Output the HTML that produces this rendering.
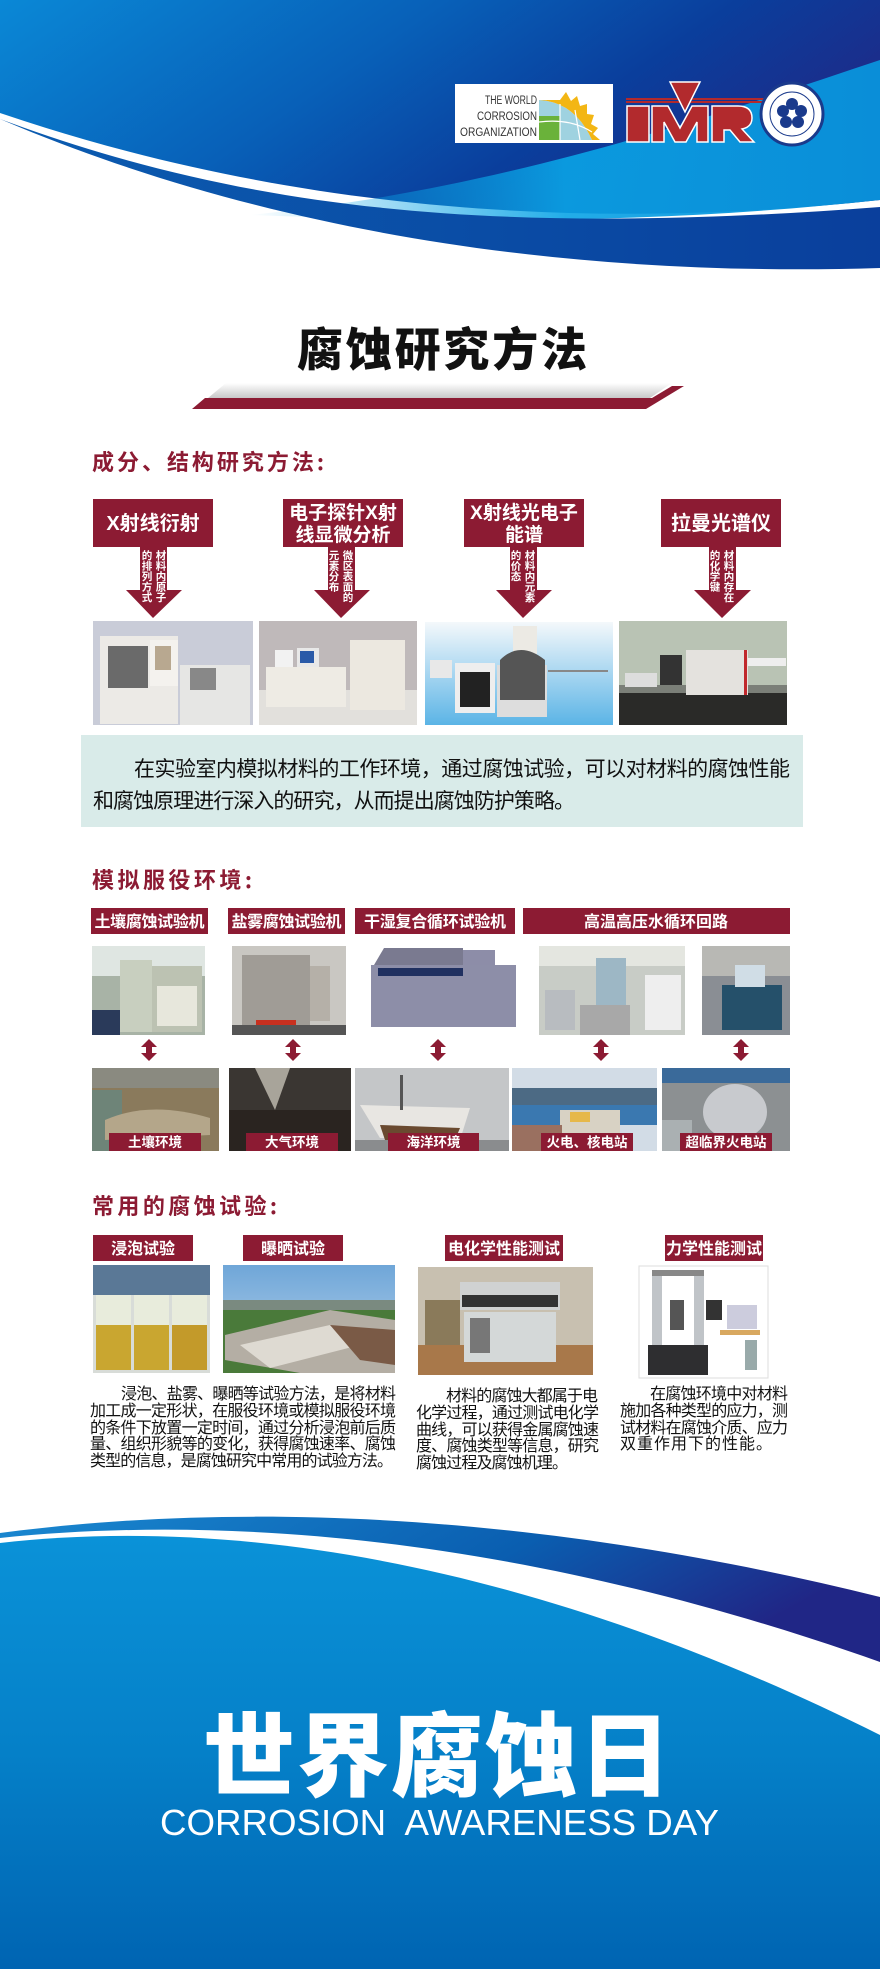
<!DOCTYPE html>
<html><head><meta charset="utf-8"><style>
html,body{margin:0;padding:0;background:#fff;}
svg{display:block;}
text{font-family:"Liberation Sans","Noto Sans CJK SC",sans-serif;}
.cn{font-family:"Noto Sans CJK SC","WenQuanYi Zen Hei",sans-serif;}
</style></head><body>
<svg width="880" height="1969" viewBox="0 0 880 1969" xmlns="http://www.w3.org/2000/svg">
<defs>
<linearGradient id="hg" x1="0" y1="0" x2="1" y2="0.35">
<stop offset="0" stop-color="#0a88d6"/><stop offset="0.45" stop-color="#0860b8"/><stop offset="0.75" stop-color="#0a3e9c"/><stop offset="1" stop-color="#1c2c8a"/></linearGradient>
<linearGradient id="cy" x1="0" y1="0" x2="1" y2="0">
<stop offset="0" stop-color="#0aa4e6" stop-opacity="0"/><stop offset="0.5" stop-color="#0aa4e6" stop-opacity="0.9"/><stop offset="1" stop-color="#0a8ed8"/></linearGradient>
<linearGradient id="lb" x1="0" y1="0" x2="1" y2="0">
<stop offset="0" stop-color="#0b5cb0"/><stop offset="1" stop-color="#0a3f9c"/></linearGradient>
<linearGradient id="fb" x1="0" y1="0" x2="0" y2="1">
<stop offset="0" stop-color="#0a92d8"/><stop offset="0.5" stop-color="#0580c8"/><stop offset="1" stop-color="#0064b2"/></linearGradient>
<linearGradient id="fd" x1="0" y1="0" x2="1" y2="0.3">
<stop offset="0" stop-color="#1a88d0"/><stop offset="0.6" stop-color="#0a5eb0"/><stop offset="1" stop-color="#202686"/></linearGradient>
<linearGradient id="gr" x1="0" y1="0" x2="0" y2="1">
<stop offset="0" stop-color="#fff"/><stop offset="1" stop-color="#c8c8c8"/></linearGradient>
<linearGradient id="sky" x1="0" y1="0" x2="0" y2="1"><stop offset="0" stop-color="#6fa6d8"/><stop offset="1" stop-color="#bcd6ec"/></linearGradient>
<linearGradient id="ltb" x1="0" y1="0" x2="0" y2="1"><stop offset="0" stop-color="#f4f8fb"/><stop offset="1" stop-color="#5bb4e6"/></linearGradient>
</defs>

<!-- header -->
<path d="M0,0 H880 V200 C600,230 300,215 0,113 Z" fill="url(#hg)"/>
<path d="M250,215 C500,190 700,120 880,60 V200 C650,225 450,222 250,215 Z" fill="url(#cy)"/>
<path d="M0,119 C250,212 500,236 880,207 V268 C560,278 260,230 0,119 Z" fill="url(#lb)"/>

<!-- logos -->
<rect x="455" y="84" width="158" height="59" fill="#fff"/>
<text x="485" y="104" font-size="11.5" fill="#333" textLength="52" lengthAdjust="spacingAndGlyphs">THE WORLD</text>
<text x="477" y="120" font-size="11.5" fill="#333" textLength="60" lengthAdjust="spacingAndGlyphs">CORROSION</text>
<text x="460" y="136" font-size="11.5" fill="#333" textLength="77" lengthAdjust="spacingAndGlyphs">ORGANIZATION</text>
<path d="M539,100 Q575,102 592,140 H539 Z" fill="#9fd2e0"/>
<path d="M539,116 H560 V140 H539 Z" fill="#6ab23a"/>
<path d="M560,100 L566,92 L571,101 L577,96 L580,106 L587,104 L587,114 L594,115 L591,124 L598,128 L593,134 L600,140 H592 Q575,102 539,100 Z" fill="#f3b614"/>
<path d="M560,104 V140 M575,110 L580,140 M539,122 Q570,118 592,132" stroke="#fff" stroke-width="1.2" fill="none"/>
<path d="M626,99 H766 M626,102 H766" stroke="#b22a2d" stroke-width="2"/>
<path d="M670,82 H700 L685,112 Z" fill="#b22a2d" stroke="#fff" stroke-width="1.5"/>
<rect x="627" y="106" width="22" height="36" fill="#b22a2d" stroke="#fff" stroke-width="1.5"/>
<path d="M652,142 V106 H668 L680,128 L692,106 H708 V142 H697 V122 L686,142 H675 L664,122 V142 Z" fill="#b22a2d" stroke="#fff" stroke-width="1.5"/>
<path d="M712,142 V106 H738 Q752,106 752,118 Q752,127 742,129 L754,142 H740 L730,130 H724 V142 Z" fill="#b22a2d" stroke="#fff" stroke-width="1.5"/>
<circle cx="792" cy="114" r="31" fill="#fff" stroke="#1a3a8c" stroke-width="3"/>
<circle cx="792" cy="114" r="22" fill="none" stroke="#1a3a8c" stroke-width="1"/>
<g fill="#1a3a8c"><circle cx="792" cy="104" r="6"/><circle cx="801" cy="111" r="6"/><circle cx="798" cy="122" r="6"/><circle cx="786" cy="122" r="6"/><circle cx="783" cy="111" r="6"/></g>
<circle cx="792" cy="114" r="3" fill="#fff"/>

<!-- title -->
<text x="442" y="366" class="cn" font-size="46" font-weight="900" fill="#111" text-anchor="middle" textLength="290">腐蚀研究方法</text>
<polygon points="208,398 650,398 672,383 226,383" fill="url(#gr)"/>
<polygon points="192,409 646,409 684,386 672,386 652,398 205,398" fill="#8c1b33"/>

<!-- section 1 -->
<text x="92" y="470" class="cn" font-size="22" font-weight="700" fill="#8c1b33" textLength="232">成分、结构研究方法:</text>
<g fill="#8c1b33">
<rect x="93" y="499" width="120" height="48"/><rect x="283" y="499" width="120" height="48"/><rect x="464" y="499" width="120" height="48"/><rect x="661" y="499" width="120" height="48"/>
<polygon points="140,547 167,547 167,590 182,590 153,618 126,590 140,590"/>
<polygon points="328,547 355,547 355,590 370,590 341,618 314,590 328,590"/>
<polygon points="510,547 537,547 537,590 552,590 523,618 496,590 510,590"/>
<polygon points="709,547 736,547 736,590 751,590 722,618 694,590 709,590"/>
</g>
<g class="cn" fill="#fff" font-weight="700" text-anchor="middle">
<text x="153" y="530" font-size="20">X射线衍射</text>
<text x="343" y="519" font-size="19">电子探针X射</text><text x="343" y="541" font-size="19">线显微分析</text>
<text x="524" y="519" font-size="19">X射线光电子</text><text x="524" y="541" font-size="19">能谱</text>
<text x="721" y="530" font-size="20">拉曼光谱仪</text>
</g>
<g class="cn" fill="#fff" font-size="10.5" font-weight="700" text-anchor="middle">
<text><tspan x="161" y="559">材</tspan><tspan x="161" dy="10.5">料</tspan><tspan x="161" dy="10.5">内</tspan><tspan x="161" dy="10.5">原</tspan><tspan x="161" dy="10.5">子</tspan></text>
<text><tspan x="147" y="559">的</tspan><tspan x="147" dy="10.5">排</tspan><tspan x="147" dy="10.5">列</tspan><tspan x="147" dy="10.5">方</tspan><tspan x="147" dy="10.5">式</tspan></text>
<text><tspan x="348" y="559">微</tspan><tspan x="348" dy="10.5">区</tspan><tspan x="348" dy="10.5">表</tspan><tspan x="348" dy="10.5">面</tspan><tspan x="348" dy="10.5">的</tspan></text>
<text><tspan x="334" y="559">元</tspan><tspan x="334" dy="10.5">素</tspan><tspan x="334" dy="10.5">分</tspan><tspan x="334" dy="10.5">布</tspan></text>
<text><tspan x="530" y="559">材</tspan><tspan x="530" dy="10.5">料</tspan><tspan x="530" dy="10.5">内</tspan><tspan x="530" dy="10.5">元</tspan><tspan x="530" dy="10.5">素</tspan></text>
<text><tspan x="516" y="559">的</tspan><tspan x="516" dy="10.5">价</tspan><tspan x="516" dy="10.5">态</tspan></text>
<text><tspan x="729" y="559">材</tspan><tspan x="729" dy="10.5">料</tspan><tspan x="729" dy="10.5">内</tspan><tspan x="729" dy="10.5">存</tspan><tspan x="729" dy="10.5">在</tspan></text>
<text><tspan x="715" y="559">的</tspan><tspan x="715" dy="10.5">化</tspan><tspan x="715" dy="10.5">学</tspan><tspan x="715" dy="10.5">键</tspan></text>
</g>
<!-- photos s1 -->
<rect x="93" y="621" width="160" height="104" fill="#c9ccd8"/>
<rect x="100" y="636" width="78" height="88" fill="#eceae6"/><rect x="108" y="646" width="40" height="42" fill="#6a6a6a"/><rect x="150" y="640" width="28" height="46" fill="#f4f2ee"/><rect x="155" y="646" width="16" height="24" fill="#b8a890"/>
<rect x="180" y="665" width="70" height="60" fill="#e6e6e4"/><rect x="190" y="668" width="26" height="22" fill="#888"/>
<rect x="259" y="621" width="158" height="104" fill="#bfb9ba"/><rect x="259" y="690" width="158" height="35" fill="#e2e0dc"/>
<rect x="266" y="667" width="80" height="40" fill="#eeebe4"/><rect x="275" y="650" width="18" height="17" fill="#f2f2f2"/><rect x="297" y="648" width="22" height="19" fill="#e8e8e8"/><rect x="300" y="651" width="14" height="12" fill="#2a5aa8"/>
<rect x="350" y="640" width="55" height="70" fill="#ece8e0"/>
<rect x="425" y="622" width="188" height="103" fill="url(#ltb)"/>
<rect x="455" y="663" width="40" height="50" fill="#eee"/><rect x="460" y="672" width="30" height="35" fill="#222"/><rect x="497" y="665" width="50" height="52" fill="#ddd"/><rect x="513" y="626" width="24" height="28" fill="#eceae4"/><path d="M500,660 Q520,640 545,660 L545,700 L500,700 Z" fill="#555"/><rect x="430" y="660" width="22" height="18" fill="#e8e8e8"/><rect x="548" y="670" width="60" height="2" fill="#888"/>
<rect x="619" y="621" width="168" height="104" fill="#b9c3b4"/><rect x="619" y="691" width="168" height="34" fill="#2a2a28"/><rect x="619" y="685" width="168" height="8" fill="#7b7f78"/>
<rect x="686" y="650" width="62" height="45" fill="#e4e2de"/><rect x="744" y="650" width="3" height="45" fill="#c0282c"/><rect x="660" y="655" width="22" height="30" fill="#333"/><rect x="625" y="673" width="32" height="14" fill="#ddd"/><rect x="748" y="658" width="38" height="8" fill="#eee"/>

<!-- teal box -->
<rect x="81" y="735" width="722" height="92" fill="#d9ebe9"/>
<text x="134" y="776" class="cn" font-size="21" fill="#111" textLength="656">在实验室内模拟材料的工作环境，通过腐蚀试验，可以对材料的腐蚀性能</text>
<text x="93" y="808" class="cn" font-size="21" fill="#111" textLength="482">和腐蚀原理进行深入的研究，从而提出腐蚀防护策略。</text>

<!-- section 2 -->
<text x="92" y="888" class="cn" font-size="22" font-weight="700" fill="#8c1b33" textLength="160">模拟服役环境:</text>
<g fill="#8c1b33"><rect x="91" y="908" width="117" height="26"/><rect x="228" y="908" width="117" height="26"/><rect x="355" y="908" width="160" height="26"/><rect x="523" y="908" width="267" height="26"/></g>
<g class="cn" fill="#fff" font-size="16" font-weight="700" text-anchor="middle">
<text x="149.5" y="927" textLength="110">土壤腐蚀试验机</text><text x="286.5" y="927" textLength="110">盐雾腐蚀试验机</text><text x="435" y="927" textLength="142">干湿复合循环试验机</text><text x="656" y="927">高温高压水循环回路</text>
</g>
<rect x="92" y="946" width="113" height="89" fill="#a8b3a6"/><rect x="92" y="946" width="113" height="30" fill="#dfe6e2"/><rect x="120" y="960" width="32" height="72" fill="#c8cfbf"/><rect x="152" y="966" width="50" height="66" fill="#bcc2b2"/><rect x="157" y="986" width="40" height="40" fill="#e7e7dc"/><rect x="92" y="1010" width="28" height="25" fill="#2a3a5a"/>
<rect x="232" y="946" width="114" height="89" fill="#c9c7c2"/><rect x="242" y="955" width="68" height="70" fill="#a09c96"/><rect x="310" y="966" width="20" height="55" fill="#b5b0a8"/><rect x="256" y="1020" width="40" height="8" fill="#c8301f"/><rect x="232" y="1025" width="114" height="10" fill="#555"/>
<rect x="364" y="946" width="157" height="89" fill="#fff"/><path d="M374,965 L384,948 L463,948 L463,965 Z" fill="#7a7a90"/><rect x="463" y="950" width="32" height="20" fill="#8d8da8"/><rect x="371" y="965" width="145" height="62" fill="#8d8ea8"/><rect x="378" y="968" width="85" height="8" fill="#203060"/>
<rect x="539" y="946" width="146" height="89" fill="#c8ccc6"/><rect x="539" y="946" width="146" height="20" fill="#e4e6e0"/><rect x="596" y="958" width="30" height="50" fill="#9db7c5"/><rect x="545" y="990" width="30" height="40" fill="#b8bcc0"/><rect x="645" y="975" width="36" height="55" fill="#eee"/><rect x="580" y="1005" width="50" height="30" fill="#a8a8a8"/>
<rect x="702" y="946" width="88" height="89" fill="#8a8e94"/><rect x="702" y="946" width="88" height="30" fill="#b8b8b4"/><rect x="722" y="985" width="60" height="45" fill="#25506a"/><rect x="735" y="965" width="30" height="22" fill="#d0dde6"/>
<g fill="#8c1b33">
<polygon points="149,1039 141,1047 146,1047 146,1053 141,1053 149,1061 157,1053 152,1053 152,1047 157,1047"/>
<polygon points="293,1039 285,1047 290,1047 290,1053 285,1053 293,1061 301,1053 296,1053 296,1047 301,1047"/>
<polygon points="438,1039 430,1047 435,1047 435,1053 430,1053 438,1061 446,1053 441,1053 441,1047 446,1047"/>
<polygon points="601,1039 593,1047 598,1047 598,1053 593,1053 601,1061 609,1053 604,1053 604,1047 609,1047"/>
<polygon points="741,1039 733,1047 738,1047 738,1053 733,1053 741,1061 749,1053 744,1053 744,1047 749,1047"/>
</g>
<rect x="92" y="1068" width="127" height="83" fill="#8a7a5c"/><rect x="92" y="1068" width="127" height="20" fill="#8a8a80"/><rect x="92" y="1090" width="30" height="61" fill="#6e8478"/><path d="M105,1120 Q150,1100 210,1118 L210,1135 L105,1140 Z" fill="#b4a68a"/>
<rect x="229" y="1068" width="122" height="83" fill="#3a3632"/><path d="M255,1068 L290,1068 L275,1110 Z" fill="#a8a49a"/><rect x="229" y="1110" width="122" height="41" fill="#2a2420"/>
<rect x="355" y="1068" width="154" height="83" fill="#c4c6c8"/><path d="M360,1105 L470,1108 L460,1140 L380,1138 Z" fill="#e8e6e2"/><path d="M380,1125 L460,1128 L455,1140 L385,1140 Z" fill="#6a4a30"/><rect x="355" y="1140" width="154" height="11" fill="#8a8c8e"/><rect x="400" y="1075" width="3" height="35" fill="#555"/>
<rect x="512" y="1068" width="145" height="83" fill="#d2dce6"/><rect x="512" y="1088" width="145" height="20" fill="#4c6a84"/><rect x="512" y="1105" width="145" height="20" fill="#3a78b0"/><rect x="560" y="1110" width="60" height="41" fill="#d8d2c4"/><rect x="570" y="1112" width="20" height="10" fill="#e6b84a"/><rect x="512" y="1125" width="50" height="26" fill="#9a7060"/>
<rect x="662" y="1068" width="128" height="83" fill="#8c9092"/><rect x="662" y="1068" width="128" height="15" fill="#3a6a9a"/><ellipse cx="735" cy="1112" rx="32" ry="28" fill="#c8cace"/><rect x="662" y="1120" width="30" height="31" fill="#aab0b2"/>
<g fill="#8c1b33"><rect x="109" y="1133" width="92" height="18"/><rect x="246" y="1133" width="92" height="18"/><rect x="388" y="1133" width="91" height="18"/><rect x="541" y="1133" width="92" height="18"/><rect x="680" y="1133" width="92" height="18"/></g>
<g class="cn" fill="#fff" font-size="13.5" font-weight="700" text-anchor="middle">
<text x="155" y="1147">土壤环境</text><text x="292" y="1147">大气环境</text><text x="433.5" y="1147">海洋环境</text><text x="587" y="1147">火电、核电站</text><text x="726" y="1147">超临界火电站</text>
</g>

<!-- section 3 -->
<text x="92" y="1214" class="cn" font-size="22" font-weight="700" fill="#8c1b33" textLength="185">常用的腐蚀试验:</text>
<g fill="#8c1b33"><rect x="93" y="1235" width="100" height="26"/><rect x="243" y="1235" width="100" height="26"/><rect x="445" y="1235" width="118" height="26"/><rect x="665" y="1235" width="98" height="26"/></g>
<g class="cn" fill="#fff" font-size="16" font-weight="700" text-anchor="middle">
<text x="143" y="1254">浸泡试验</text><text x="293" y="1254">曝晒试验</text><text x="504" y="1254">电化学性能测试</text><text x="714" y="1254">力学性能测试</text>
</g>
<rect x="93" y="1265" width="117" height="108" fill="#d8dcd8"/><rect x="93" y="1265" width="117" height="30" fill="#5a7896"/>
<rect x="96" y="1295" width="35" height="75" fill="#e8ecdc"/><rect x="134" y="1295" width="35" height="75" fill="#e8ecdc"/><rect x="172" y="1295" width="35" height="75" fill="#e8ecdc"/>
<rect x="96" y="1325" width="35" height="45" fill="#c9a630"/><rect x="134" y="1325" width="35" height="45" fill="#c9a630"/><rect x="172" y="1325" width="35" height="45" fill="#c39a2a"/>
<rect x="223" y="1265" width="172" height="108" fill="url(#sky)"/><rect x="223" y="1300" width="172" height="10" fill="#7a8a80"/><rect x="223" y="1310" width="172" height="63" fill="#4a7a3a"/>
<path d="M225,1335 L330,1310 L395,1320 L395,1373 L300,1373 L225,1360 Z" fill="#b4aea4"/><path d="M240,1345 L330,1325 L360,1345 L270,1368 Z" fill="#dedad2"/><path d="M330,1325 L395,1330 L395,1365 L360,1360 Z" fill="#7a5a46"/>
<rect x="418" y="1267" width="175" height="108" fill="#c8c0b0"/><rect x="418" y="1345" width="175" height="30" fill="#a8784a"/><rect x="460" y="1282" width="100" height="28" fill="#d0d2d2"/><rect x="462" y="1295" width="96" height="12" fill="#333"/><rect x="464" y="1312" width="92" height="50" fill="#d4d8d8"/><rect x="470" y="1318" width="20" height="35" fill="#777"/><rect x="425" y="1300" width="35" height="45" fill="#8a7a5a"/>
<rect x="639" y="1266" width="129" height="112" fill="#fff" stroke="#ddd"/><rect x="652" y="1270" width="10" height="85" fill="#c0c4c8"/><rect x="694" y="1270" width="10" height="85" fill="#c0c4c8"/><rect x="652" y="1270" width="52" height="6" fill="#888"/><rect x="648" y="1345" width="60" height="30" fill="#2e2e30"/><rect x="670" y="1300" width="14" height="30" fill="#555"/><rect x="706" y="1300" width="16" height="20" fill="#333"/><rect x="727" y="1305" width="30" height="24" fill="#ccd"/><rect x="720" y="1330" width="40" height="5" fill="#d8a860"/><rect x="745" y="1340" width="12" height="30" fill="#9aa"/>

<g class="cn" font-size="16" fill="#111">
<text x="121" y="1399" textLength="275">浸泡、盐雾、曝晒等试验方法，是将材料</text>
<text x="90" y="1416" textLength="306">加工成一定形状，在服役环境或模拟服役环境</text>
<text x="90" y="1433" textLength="306">的条件下放置一定时间，通过分析浸泡前后质</text>
<text x="90" y="1449" textLength="306">量、组织形貌等的变化，获得腐蚀速率、腐蚀</text>
<text x="90" y="1466" textLength="303">类型的信息，是腐蚀研究中常用的试验方法。</text>
<text x="446" y="1401" textLength="152">材料的腐蚀大都属于电</text>
<text x="416" y="1418" textLength="183">化学过程，通过测试电化学</text>
<text x="416" y="1435" textLength="183">曲线，可以获得金属腐蚀速</text>
<text x="416" y="1451" textLength="183">度、腐蚀类型等信息，研究</text>
<text x="416" y="1468" textLength="152">腐蚀过程及腐蚀机理。</text>
<text x="650" y="1399" textLength="138">在腐蚀环境中对材料</text>
<text x="620" y="1416" textLength="168">施加各种类型的应力，测</text>
<text x="620" y="1433" textLength="168">试材料在腐蚀介质、应力</text>
<text x="620" y="1449" textLength="152">双重作用下的性能。</text>
</g>

<!-- footer -->
<path d="M0,1533 C250,1500 550,1515 880,1597 V1662 C550,1545 250,1512 0,1538 Z" fill="url(#fd)"/>
<path d="M0,1543 C200,1520 500,1545 880,1735 V1969 H0 Z" fill="url(#fb)"/>
<text x="437" y="1789" class="cn" font-size="92" font-weight="900" fill="#fff" text-anchor="middle" textLength="468">世界腐蚀日</text>
<text x="160" y="1835" font-size="36" fill="#fff" textLength="559" lengthAdjust="spacingAndGlyphs" xml:space="preserve">CORROSION  AWARENESS DAY</text>
</svg>
</body></html>
